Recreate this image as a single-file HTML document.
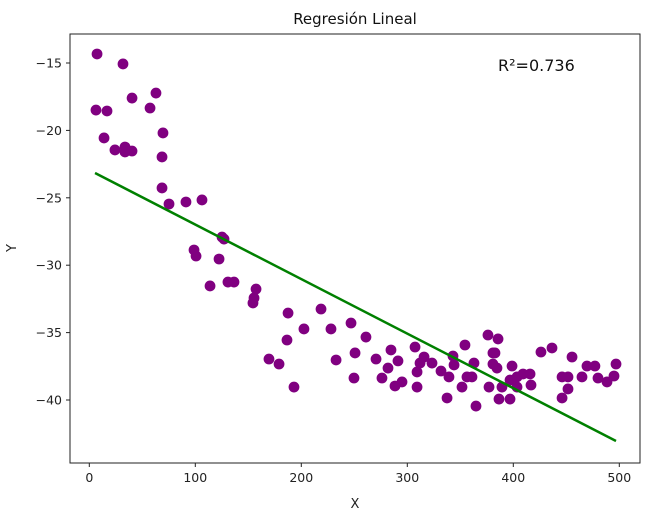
<!DOCTYPE html>
<html><head><meta charset="utf-8"><style>
html,body{margin:0;padding:0;background:#fff;}
svg{display:block;font-family:"DejaVu Sans","Liberation Sans",sans-serif;}
</style></head><body>
<svg id="chart" width="665" height="516" viewBox="0 0 665 516">
<rect width="665" height="516" fill="#fff"/>
<text x="355" y="24" font-size="15" text-anchor="middle" fill="#111">Regresión Lineal</text>
<g id="points"></g>
<g id="fit"></g>
<rect x="70" y="34" width="570" height="429" fill="none" stroke="#222" stroke-width="1"/>
<g id="xt"></g>
<g id="yt"></g>
<text x="498" y="71" font-size="16" fill="#111">R²=0.736</text>
<text x="355" y="508" font-size="13" text-anchor="middle" fill="#222">X</text>
<text x="16" y="248" font-size="13" text-anchor="middle" fill="#222" transform="rotate(-90 16 248)">Y</text>
</svg>
<script>
const xVals=[7.3,31.8,6.3,16.7,40.3,62.9,57.3,13.9,24.2,33.7,33.7,40.3,69.5,68.6,68.6,75.2,91.2,106.3,125.2,127.1,98.8,100.7,122.4,113.9,130.8,136.5,157.3,155.4,154.4,187.5,202.5,186.5,169.5,179,193.1,
218.6,228,246.9,261,232.8,250.7,249.7,270.5,284.6,291.2,281.8,276.1,288.4,295,307.3,315.8,312,309.2,323.3,309.2,331.8,339.3,337.5,343.1,344.1,354.4,362.9,356.3,361,351.6,364.8,376.1,385.6,380.8,382.7,380.8,384.6,377.1,386.5,396.9,389.3,398.8,396.9,403.5,409.2,415.8,403.5,416.7,426.1,436.5,455.4,446,451.6,464.8,451.6,446,469.5,477,479.9,488.4,495,496.9];
const yVals=[-14.33,-15.07,-18.49,-18.56,-17.6,-17.23,-18.34,-20.56,-21.45,-21.23,-21.6,-21.53,-20.19,-21.97,-24.27,-25.46,-25.31,-25.16,-27.91,-28.06,-28.87,-29.32,-29.54,-31.54,-31.25,-31.25,-31.77,-32.43,-32.8,-33.55,-34.73,-35.55,-36.96,-37.33,-39.04,
-33.25,-34.73,-34.29,-35.33,-37.03,-36.51,-38.37,-36.96,-36.29,-37.1,-37.63,-38.37,-38.96,-38.66,-36.07,-36.81,-37.26,-37.92,-37.26,-39.04,-37.85,-38.29,-39.85,-36.74,-37.4,-35.92,-37.26,-38.29,-38.29,-39.04,-40.45,-35.18,-35.47,-36.51,-36.51,-37.33,-37.63,-39.04,-39.93,-39.93,-39.04,-37.48,-38.52,-38.29,-38.07,-38.07,-39.04,-38.89,-36.44,-36.14,-36.81,-38.29,-38.29,-38.29,-39.18,-39.85,-37.48,-37.48,-38.37,-38.66,-38.22,-37.33];
const lineX=[5.4,496.9];
const lineY=[-23.16,-43.04];
const xTicks=[0,100,200,300,400,500];
const yTicks=[-15,-20,-25,-30,-35,-40];
const NS="http://www.w3.org/2000/svg";
function sx(v){return 89.3+1.06*v;}
function sy(v){return 63+(-15-v)*13.48;}
function mk(t,a,p){const e=document.createElementNS(NS,t);for(const k in a)e.setAttribute(k,a[k]);p.appendChild(e);return e;}
const P=document.getElementById('points');
xVals.forEach((x,i)=>{
  const c=mk('circle',{cx:sx(x),cy:sy(yVals[i]),r:5.4,fill:'#800080'},P);
  
  
});
const F=document.getElementById('fit');
const ln=mk('line',{x1:sx(lineX[0]),y1:sy(lineY[0]),x2:sx(lineX[1]),y2:sy(lineY[1]),stroke:'#008000','stroke-width':2.5},F);


const XT=document.getElementById('xt');
xTicks.forEach(t=>{
  const x=sx(t);
  const tk=mk('line',{x1:x,y1:463,x2:x,y2:467,stroke:'#222'},XT);
  
  
  const tx=mk('text',{x:x,y:482,'font-size':12.5,'text-anchor':'middle',fill:'#222'},XT);
  tx.textContent=t;
  
  
});
const YT=document.getElementById('yt');
yTicks.forEach(t=>{
  const y=sy(t);
  const tk=mk('line',{x1:66,y1:y,x2:70,y2:y,stroke:'#222'},YT);
  
  
  const tx=mk('text',{x:62,y:y+4.5,'font-size':12.5,'text-anchor':'end',fill:'#222'},YT);
  tx.textContent='\u2212'+Math.abs(t);
  
  
});
</script>
</body></html>
